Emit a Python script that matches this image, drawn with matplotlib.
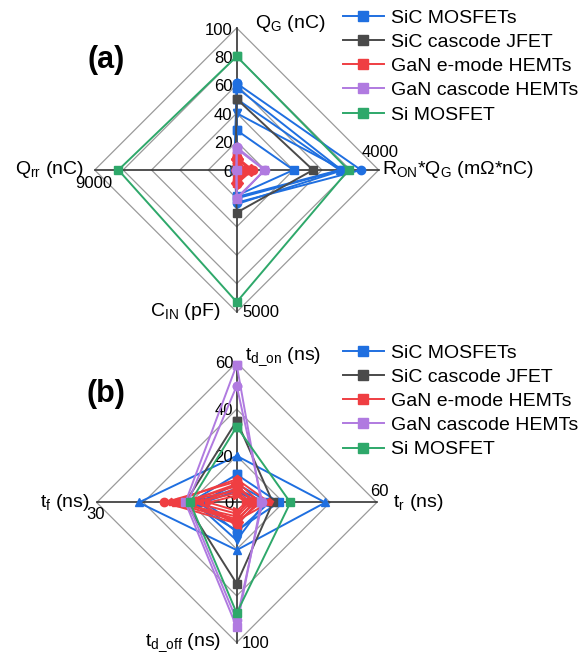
import numpy as np
import matplotlib.pyplot as plt
from matplotlib.lines import Line2D

plt.rcParams['font.family'] = ['Liberation Sans', 'DejaVu Sans']
plt.rcParams['mathtext.default'] = 'regular'

# ---- data ----
techs = ['SiC MOSFETs', 'SiC cascode JFET', 'GaN e-mode HEMTs',
         'GaN cascode HEMTs', 'Si MOSFET']
colors = ['#1f6fe0', '#4a4a4a', '#ef3e42', '#b07ae0', '#2ea86a']

# (a) order: Q_G (nC), R_ON*Q_G (mOhm*nC), C_IN (pF), Q_rr (nC)
max_a = [100, 4000, 5000, 9000]
sic_mos_a = [[61, 3500, 1150, 150], [58, 2950, 1000, 120], [50, 2900, 950, 100],
             [40, 3000, 1200, 90], [28, 1600, 900, 60]]
sic_jfet_a = [[50, 2150, 1500, 80]]
gan_e_a = [[6, 300, 400, 0], [9, 450, 480, 0], [5, 250, 300, 0], [3, 150, 200, 0],
           [8, 400, 450, 0], [2, 100, 150, 0], [10, 350, 470, 0], [4, 200, 250, 0]]
gan_cas_a = [[15, 780, 1030, 10], [16, 800, 980, 20]]
si_mos_a = [[80, 3150, 4650, 7500]]

# (b) order: t_d_on, t_r, t_d_off, t_f (ns)
max_b = [60, 60, 100, 30]
sic_mos_b = [[8, 14, 21, 8], [12, 18, 20, 10], [20, 38, 34, 21],
             [6, 12, 27, 9], [5, 9, 16, 7]]
sic_jfet_b = [[35, 15.5, 58, 11]]
gan_e_b = [[7, 8, 12, 12], [9, 10, 15, 15.5], [5, 6, 10, 13], [4, 5, 8, 9],
           [8, 7, 14, 11], [6, 9, 16, 8], [3, 4, 6, 6], [10, 14, 13, 14]]
gan_cas_b = [[59, 10.5, 89, 11], [50, 11, 84, 10.5]]
si_mos_b = [[32.5, 23, 79, 10]]

sic_marks = ['o', 's', '^', 'v', 's']
gan_e_marks = ['s', 'o', '^', 'v', 'D', '<', '>', 'p']
gan_cas_marks = ['s', 'o']

series_a = [(sic_mos_a, sic_marks), (sic_jfet_a, ['s']), (gan_e_a, gan_e_marks),
            (gan_cas_a, gan_cas_marks), (si_mos_a, ['s'])]
series_b = [(sic_mos_b, sic_marks), (sic_jfet_b, ['s']), (gan_e_b, gan_e_marks),
            (gan_cas_b, gan_cas_marks), (si_mos_b, ['s'])]

# spokes: top, right, bottom, left
dx = np.array([0, 1, 0, -1])
dy = np.array([1, 0, -1, 0])


def radar_xy(vals, maxes):
    r = np.array(vals, dtype=float) / np.array(maxes, dtype=float)
    x = np.append(r * dx, r[0] * dx[0])
    y = np.append(r * dy, r[0] * dy[0])
    return x, y


def draw_panel(ax, series, maxes, nrings, lim):
    for k in range(1, nrings + 1):
        f = k / nrings
        ax.plot(np.append(f * dx, f * dx[0]), np.append(f * dy, f * dy[0]),
                color='#9a9a9a', lw=0.9, zorder=1)
    ax.plot([-1, 1], [0, 0], color='#333333', lw=1.2, zorder=2)
    ax.plot([0, 0], [-1, 1], color='#333333', lw=1.2, zorder=2)
    for i, (devs, marks) in enumerate(series):
        for j, d in enumerate(devs):
            x, y = radar_xy(d, maxes)
            ax.plot(x, y, color=colors[i], lw=1.4, marker=marks[j % len(marks)],
                    ms=6, zorder=3 + i)
    ax.set_xlim(-lim, lim)
    ax.set_ylim(-lim, lim)
    ax.set_aspect('equal')
    ax.axis('off')


fig = plt.figure(figsize=(5.87, 6.54), dpi=100)
ax1 = fig.add_axes([86.7 / 587, 1 - 320 / 654, 300 / 587, 300 / 654])
ax2 = fig.add_axes([86.7 / 587, 1 - 652.5 / 654, 300 / 587, 300 / 654])

draw_panel(ax1, series_a, max_a, 5, 150 / 142)
draw_panel(ax2, series_b, max_b, 3, 150 / 140)

tfs = 14
kfs = 12

# panel (a) labels
for v in [0, 20, 40, 60, 80, 100]:
    ax1.text(-0.03, v / 100 - 0.015, str(v), ha='right', va='center', fontsize=kfs)
ax1.text(0.13, 1.035, r'Q$_G$ (nC)', ha='left', va='center', fontsize=tfs)
ax1.text(1.023, 0, r'R$_{ON}$*Q$_G$ (m$\Omega$*nC)', ha='left', va='center', fontsize=tfs)
ax1.text(-0.118, -1.0, r'C$_{IN}$ (pF)', ha='right', va='center', fontsize=tfs)
ax1.text(-1.075, 0, r'Q$_{rr}$ (nC)', ha='right', va='center', fontsize=tfs)
ax1.text(0.88, 0.12, '4000', ha='left', va='center', fontsize=kfs)
ax1.text(0.037, -1.007, '5000', ha='left', va='center', fontsize=kfs)
ax1.text(-0.878, -0.092, '9000', ha='right', va='center', fontsize=kfs)
ax1.text(-1.054, 0.775, '(a)', ha='left', va='center', fontsize=22, fontweight='bold')

# panel (b) labels
for v in [0, 20, 40, 60]:
    ax2.text(-0.025, v / 60 - 0.01, str(v), ha='right', va='center', fontsize=kfs)
ax2.text(0.06, 1.04, r't$_{d\_on}$ (ns)', ha='left', va='center', fontsize=tfs)
ax2.text(1.117, 0, r't$_r$ (ns)', ha='left', va='center', fontsize=tfs)
ax2.text(-0.107, -1.0, r't$_{d\_off}$ (ns)', ha='right', va='center', fontsize=tfs)
ax2.text(-1.048, 0, r't$_f$ (ns)', ha='right', va='center', fontsize=tfs)
ax2.text(0.952, 0.077, '60', ha='left', va='center', fontsize=kfs)
ax2.text(0.036, -1.006, '100', ha='left', va='center', fontsize=kfs)
ax2.text(-1.071, -0.089, '30', ha='left', va='center', fontsize=kfs)
ax2.text(-1.07, 0.775, '(b)', ha='left', va='center', fontsize=22, fontweight='bold')

handles = [Line2D([], [], color=c, lw=1.4, marker='s', ms=7) for c in colors]
for ax, top in [(ax1, 9), (ax2, 344)]:
    ax.legend(handles, techs, loc='upper left',
              bbox_to_anchor=(343 / 587, 1 - top / 654), bbox_transform=fig.transFigure,
              frameon=False, fontsize=tfs, handlelength=2.1, handletextpad=0.35,
              labelspacing=0.34, borderpad=0, borderaxespad=0)

fig.savefig('out.png', dpi=100)
